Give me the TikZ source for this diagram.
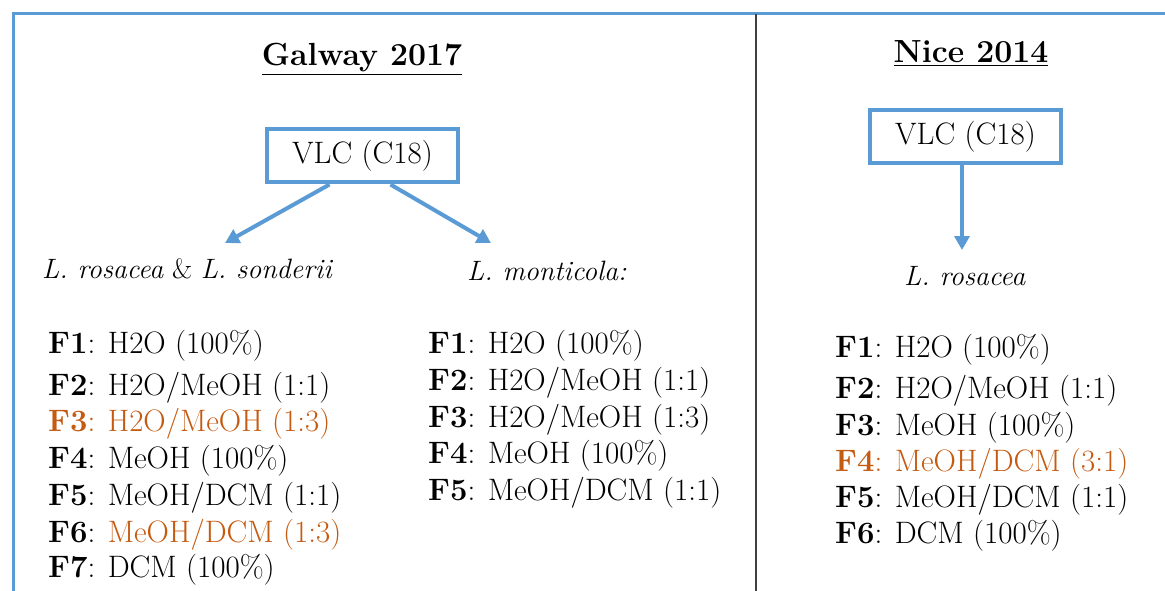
\documentclass[tikz,border=0pt]{standalone}
\usetikzlibrary{arrows.meta}
\definecolor{frameblue}{RGB}{91,155,213}
\definecolor{orng}{RGB}{197,90,17}
\begin{document}
\begin{tikzpicture}[x=1pt,y=-1pt,
  entry/.style={anchor=base west,inner sep=0,font=\fontsize{31}{36}\selectfont},
  head/.style={anchor=base,inner sep=0,font=\fontsize{32}{38}\selectfont\bfseries},
  vlcbox/.style={draw=frameblue,line width=4pt,minimum width=191pt,minimum height=53pt,inner sep=0,font=\fontsize{31}{36}\selectfont},
  species/.style={anchor=base west,inner sep=0,font=\fontsize{28}{32}\selectfont},
  arr/.style={draw=frameblue,line width=4pt,-{Triangle[length=14pt,width=15pt]}}]
\path[use as bounding box] (0,0) rectangle (1165,591);
% frame
\draw[frameblue,line width=3pt] (13.5,591) -- (13.5,14) -- (1165,14);
\draw[black!75,line width=1.4pt] (756,14) -- (756,591);
% headings
\node[head] (galway) at (362,66) {\underline{Galway 2017}};
\node[head] (nice) at (971,63) {\underline{Nice 2014}};
% boxes
\node[vlcbox] (vlc1) at (362.5,156) {VLC (C18)};
\node[vlcbox] (vlc2) at (965.5,136.5) {VLC (C18)};
% species labels
\node[species] (rosson) at (42,278) {\textit{L. rosacea} \& \textit{L. sonderii}};
\node[species] (mont) at (467,280) {\textit{L. monticola:}};
\node[species] (ros2) at (904,285) {\textit{L. rosacea}};
% arrow ends
\coordinate (t1) at (225,243);
\coordinate (t2) at (491,243);
\coordinate (t3) at (962,250);
\draw[arr] ([xshift=-33pt]vlc1.south) -- (t1);
\draw[arr] ([xshift=28pt]vlc1.south) -- (t2);
\draw[arr] ([xshift=-3.5pt]vlc2.south) -- (t3);
% left column
\node[entry] (a1) at (48,353) {\textbf{F1}: H2O (100\%)};
\node[entry] (a2) at (48,395) {\textbf{F2}: H2O/MeOH (1:1)};
\node[entry,text=orng] (a3) at (48,431) {\textbf{F3}: H2O/MeOH (1:3)};
\node[entry] (a4) at (48,468) {\textbf{F4}: MeOH (100\%)};
\node[entry] (a5) at (48,505) {\textbf{F5}: MeOH/DCM (1:1)};
\node[entry] (a6) at (48,542) {\textbf{F6}: \textcolor{orng}{MeOH/DCM (1:3)}};
\node[entry] (a7) at (48,577) {\textbf{F7}: DCM (100\%)};
% middle column
\node[entry] (b1) at (428,353) {\textbf{F1}: H2O (100\%)};
\node[entry] (b2) at (428,390) {\textbf{F2}: H2O/MeOH (1:1)};
\node[entry] (b3) at (428,427) {\textbf{F3}: H2O/MeOH (1:3)};
\node[entry] (b4) at (428,463) {\textbf{F4}: MeOH (100\%)};
\node[entry] (b5) at (428,500) {\textbf{F5}: MeOH/DCM (1:1)};
% right column
\node[entry] (c1) at (835,357) {\textbf{F1}: H2O (100\%)};
\node[entry] (c2) at (835,398) {\textbf{F2}: H2O/MeOH (1:1)};
\node[entry] (c3) at (835,435) {\textbf{F3}: MeOH (100\%)};
\node[entry,text=orng] (c4) at (835,471) {\textbf{F4}: MeOH/DCM (3:1)};
\node[entry] (c5) at (835,507) {\textbf{F5}: MeOH/DCM (1:1)};
\node[entry] (c6) at (835,543) {\textbf{F6}: DCM (100\%)};
\end{tikzpicture}
\end{document}
